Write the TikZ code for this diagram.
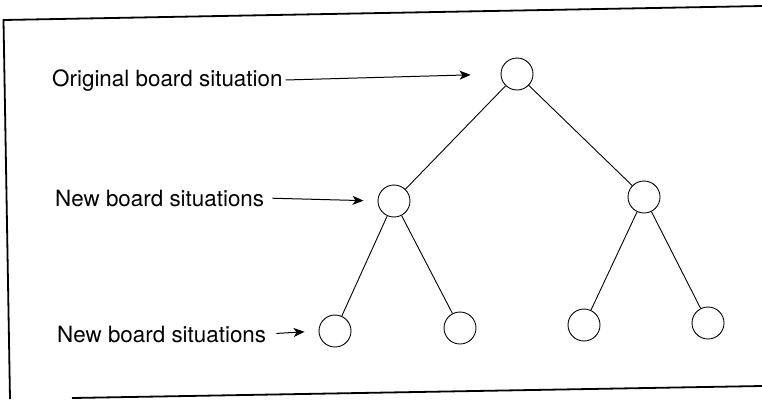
\documentclass[tikz,border=0pt]{standalone}
\usepackage{fontspec}
\setmainfont{TeX Gyre Heros}
\usepackage{tikz}
\usetikzlibrary{arrows.meta, positioning}
\tikzset{
  state/.style={circle, draw=black, line width=0.9pt,
                minimum size=32pt, inner sep=0pt},
  lbl/.style={font=\fontsize{22.4}{26}\selectfont, inner sep=0pt,
              anchor=base west},
  edge/.style={line width=0.9pt, black},
  arr/.style={-{Stealth[length=11pt, width=9pt, inset=3pt]},
              line width=1pt, black},
  rim/.style={line width=1.8pt, black},
}
\begin{document}
\begin{tikzpicture}[x=1pt, y=-1pt]
  \useasboundingbox (0,0) rectangle (762,399);
  %% Frame
  \draw[rim] (762,6) -- (3.5,20) -- (10,399);
  \draw[rim] (72,398) -- (762,386);
  %% Tree
  \node[state] (root) at (517,74)  {};
  \node[state] (midL) at (394,201) {};
  \node[state] (midR) at (644,197) {};
  \node[state] (leafA) at (335,331) {};
  \node[state] (leafB) at (460,328) {};
  \node[state] (leafC) at (584,325) {};
  \node[state] (leafD) at (708,323) {};
  \foreach \a/\b in {root/midL,root/midR,midL/leafA,midL/leafB,midR/leafC,midR/leafD}
    \draw[edge] (\a) -- (\b);
  %% Labels
  \node[lbl] (origlbl) at (52,86)  {Original board situation};
  \node[lbl] (newlbl)  at (55,206) {New board situations};
  \node[lbl] (newlbl2) at (57,342) {New board situations};
  \draw[arr, shorten <=3pt, shorten >=30pt] (origlbl.east) -- (root.west);
  \draw[arr, shorten <=8pt, shorten >=14pt] (newlbl.east) -- (midL.west);
  \draw[arr, shorten <=10pt, shorten >=14pt] (newlbl2.east) -- (leafA.west);
\end{tikzpicture}
\end{document}
